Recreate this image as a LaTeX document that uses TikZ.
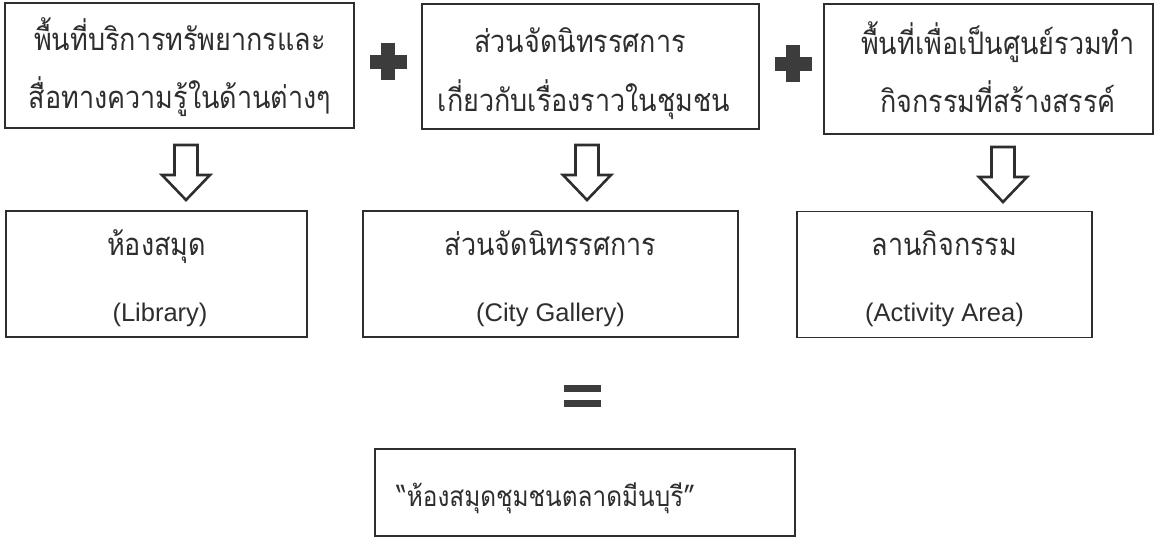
\documentclass[tikz,border=0pt]{standalone}
\usepackage{fontspec}
\usetikzlibrary{calc}
\setmainfont{Liberation Sans}
\newfontfamily\thai[Script=Thai, FakeStretch=0.87]{Loma}
\newfontfamily\latin{Liberation Sans}
\definecolor{ink}{HTML}{2E2E2E}
\definecolor{markgray}{HTML}{3C3C3C}
\tikzset{
  box/.style={draw=ink, line width=1.6pt, inner sep=0pt},
  thaitext/.style={text=ink, anchor=base, inner sep=0pt, font=\thai\fontsize{31}{36}\selectfont},
  latintext/.style={text=ink, anchor=base, inner sep=0pt, font=\latin\fontsize{25.5}{30}\selectfont},
  arrowline/.style={draw=ink, line width=2.6pt, line join=miter, fill=white},
  blockarrow/.pic={\path[arrowline] (-11.5,0) -- (-11.5,30) -- (-24,30) -- (0,55) -- (24,30) -- (11.5,30) -- (11.5,0) -- cycle;},
  plussign/.pic={\fill[markgray] (-7,-18.5) rectangle (7,18.5); \fill[markgray] (-18.5,-7) rectangle (18.5,7);},
}
\begin{document}
\begin{tikzpicture}[x=1pt,y=-1pt]
\useasboundingbox (0,0) rectangle (1161,545);
% top boxes
\node[box, minimum width=349pt, minimum height=125pt] (t1) at (179.5,65.5) {};
\node[box, minimum width=337pt, minimum height=125pt] (t2) at (590.5,66.5) {};
\node[box, minimum width=329pt, minimum height=130pt] (t3) at (988.5,69) {};
\node[thaitext] (t1a) at (180,51) {พื้นที่บริการทรัพยากรและ};
\node[thaitext] (t1b) at (180,109) {สื่อทางความรู้ในด้านต่างๆ};
\node[thaitext] (t2a) at (580,53) {ส่วนจัดนิทรรศการ};
\node[thaitext] (t2b) at (584,112) {เกี่ยวกับเรื่องราวในชุมชน};
\node[thaitext] (t3a) at (998,55) {พื้นที่เพื่อเป็นศูนย์รวมทำ};
\node[thaitext] (t3b) at (998,113) {กิจกรรมที่สร้างสรรค์};
% plus signs
\coordinate (p1) at (388,62);
\coordinate (p2) at (793,64);
\pic at (p1) {plussign};
\pic at (p2) {plussign};
% bottom boxes
\node[box, minimum width=301pt, minimum height=126pt] (b1) at (156.5,274) {};
\node[box, minimum width=375pt, minimum height=126pt] (b2) at (550.5,274) {};
\node[box, minimum width=295pt, minimum height=126pt] (b3) at (944.5,274.5) {};
\node[thaitext] (b1a) at (156.5,256) {ห้องสมุด};
\node[latintext] (b1b) at (160,321) {(Library)};
\node[thaitext] (b2a) at (550.5,256) {ส่วนจัดนิทรรศการ};
\node[latintext] (b2b) at (550.5,321) {(City Gallery)};
\node[thaitext] (b3a) at (944.5,256) {ลานกิจกรรม};
\node[latintext] (b3b) at (944.5,321) {(Activity Area)};
% block arrows
\coordinate (a1) at (186,145);
\coordinate (a2) at (587,145);
\coordinate (a3) at (1003,147);
\pic at (a1) {blockarrow};
\pic at (a2) {blockarrow};
\pic at (a3) {blockarrow};
% equals
\coordinate (eq) at (582,396);
\fill[markgray] ($(eq)+(-18.5,-11)$) rectangle ($(eq)+(18.5,-4)$);
\fill[markgray] ($(eq)+(-18.5,4)$) rectangle ($(eq)+(18.5,11)$);
% final
\node[box, minimum width=420pt, minimum height=87pt] (final) at (585,492.5) {};
\node[thaitext, font=\thai\fontsize{28}{34}\selectfont] (finaltext) at (546,506) {“ห้องสมุดชุมชนตลาดมีนบุรี”};
\end{tikzpicture}
\end{document}
